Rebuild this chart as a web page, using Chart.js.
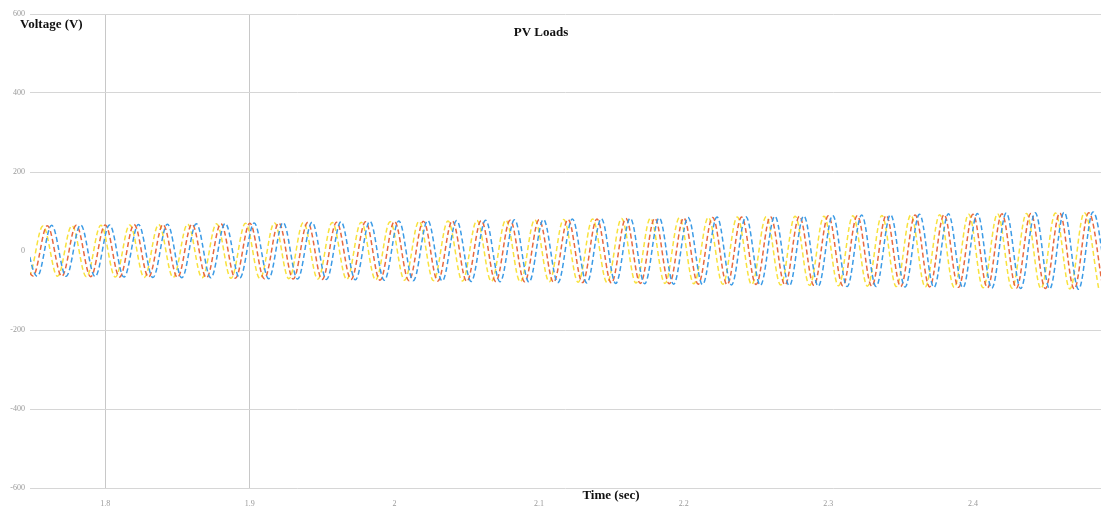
<!DOCTYPE html>
<html>
<head>
<meta charset="utf-8">
<script src="https://cdn.jsdelivr.net/npm/chart.js@4.4.1/dist/chart.umd.min.js"></script>
<style>
  body { margin: 0; background: #fff; }
  canvas { display: block; }
</style>
</head>
<body>
<canvas id="pvChart" width="1101" height="510"></canvas>
<script>
// tick labels
var xTicks = [1.8, 1.9, 2, 2.1, 2.2, 2.3, 2.4];
var xTickLabels = ['1.8', '1.9', '2', '2.1', '2.2', '2.3', '2.4'];
var yTicks = [600, 400, 200, 0, -200, -400, -600];

// each phase: time of its first extremum, then peak / trough values every half cycle (0.01 s)
var halfCycle = 0.01;
var redStart = 1.740;
var yellowStart = 1.737;
var blueStart = 1.743;

var redPeaks = [63, -63, 64, -64, 65, -65, 66, -66, 67, -66, 67, -67, 68, -68, 69, -69, 70, -70, 71, -71,
  72, -72, 73, -72, 74, -74, 75, -75, 75, -76, 76, -77, 77, -77, 78, -78, 79, -79, 80, -80,
  81, -81, 82, -82, 83, -83, 84, -84, 85, -85, 86, -85, 87, -86, 88, -87, 89, -88, 89, -89,
  90, -90, 91, -91, 92, -92, 93, -93, 94, -94, 95, -95, 96, -96, 97, -97];
var yellowPeaks = [62, -63, 63, -64, 64, -65, 65, -66, 66, -67, 67, -67, 68, -68, 69, -69, 70, -70, 71, -70,
  72, -71, 72, -72, 73, -73, 74, -74, 75, -75, 76, -76, 77, -77, 78, -78, 79, -78, 80, -79,
  81, -80, 82, -81, 83, -82, 84, -83, 85, -84, 86, -85, 87, -86, 88, -87, 88, -88, 89, -89,
  90, -90, 91, -91, 92, -92, 93, -93, 94, -94, 95, -95, 96, -96, 97, -97];
var bluePeaks = [64, -64, 65, -64, 66, -65, 66, -66, 67, -67, 68, -68, 69, -68, 70, -69, 71, -70, 72, -71,
  73, -72, 74, -73, 75, -74, 76, -75, 77, -76, 77, -77, 78, -78, 79, -79, 80, -80, 81, -81,
  82, -82, 83, -83, 84, -84, 85, -85, 86, -86, 87, -87, 88, -88, 89, -89, 90, -90, 91, -90,
  92, -91, 93, -92, 94, -93, 95, -94, 96, -95, 97, -96, 98, -97, 99, -98];

function toPoints(start, values) {
  return values.map(function (v, i) {
    return { x: start + i * halfCycle, y: v };
  });
}

function phase(label, start, values, color) {
  return {
    label: label,
    data: toPoints(start, values),
    borderColor: color,
    borderWidth: 1.5,
    borderDash: [5, 3],
    pointRadius: 0,
    tension: 0.36,
    fill: false
  };
}

var textPlugin = {
  id: 'pvText',
  afterDraw: function (chart) {
    var ctx = chart.ctx;
    ctx.save();
    ctx.fillStyle = '#111';
    ctx.font = 'bold 13px "Liberation Serif", "DejaVu Serif", serif';
    ctx.textBaseline = 'middle';
    ctx.textAlign = 'center';
    ctx.fillText('PV Loads', 541, 33);
    ctx.fillText('Time (sec)', 611, 496);
    ctx.textAlign = 'left';
    ctx.fillText('Voltage (V)', 20, 25);
    ctx.restore();
  }
};

var ctx = document.getElementById('pvChart').getContext('2d');
var pvChart = new Chart(ctx, {
  type: 'line',
  data: {
    datasets: [
      phase('Phase B', blueStart, bluePeaks, '#3b9be6'),
      phase('Phase A', redStart, redPeaks, '#e8683e'),
      phase('Phase C', yellowStart, yellowPeaks, '#f8e23c')
    ]
  },
  options: {
    responsive: false,
    animation: false,
    layout: { padding: { top: 14, right: 0, left: 0, bottom: 0 } },
    plugins: {
      legend: { display: false },
      title: { display: false },
      tooltip: { enabled: false }
    },
    scales: {
      x: {
        type: 'linear',
        min: 1.748,
        max: 2.4885,
        afterBuildTicks: function (scale) {
          scale.ticks = xTicks.map(function (v) { return { value: v }; });
        },
        afterFit: function (scale) { scale.height = 22; },
        border: { display: false },
        grid: {
          drawTicks: false,
          color: function (c) {
            return (c.tick && c.tick.value < 1.95) ? '#c8c8c8' : 'rgba(0,0,0,0)';
          }
        },
        ticks: {
          padding: 11,
          maxRotation: 0,
          color: '#9a9a9a',
          font: { size: 8, family: '"Liberation Serif", serif' },
          callback: function (value) {
            var i = xTicks.indexOf(value);
            return i >= 0 ? xTickLabels[i] : '';
          }
        }
      },
      y: {
        min: -600,
        max: 600,
        afterBuildTicks: function (scale) {
          scale.ticks = yTicks.map(function (v) { return { value: v }; });
        },
        afterFit: function (scale) { scale.width = 30; },
        border: { display: false },
        grid: {
          drawTicks: false,
          color: function (c) {
            return (c.tick && c.tick.value === 0) ? 'rgba(0,0,0,0)' : '#d6d6d6';
          }
        },
        ticks: {
          padding: 5,
          color: '#9a9a9a',
          font: { size: 8, family: '"Liberation Serif", serif' }
        }
      }
    }
  },
  plugins: [textPlugin]
});
</script>
</body>
</html>
